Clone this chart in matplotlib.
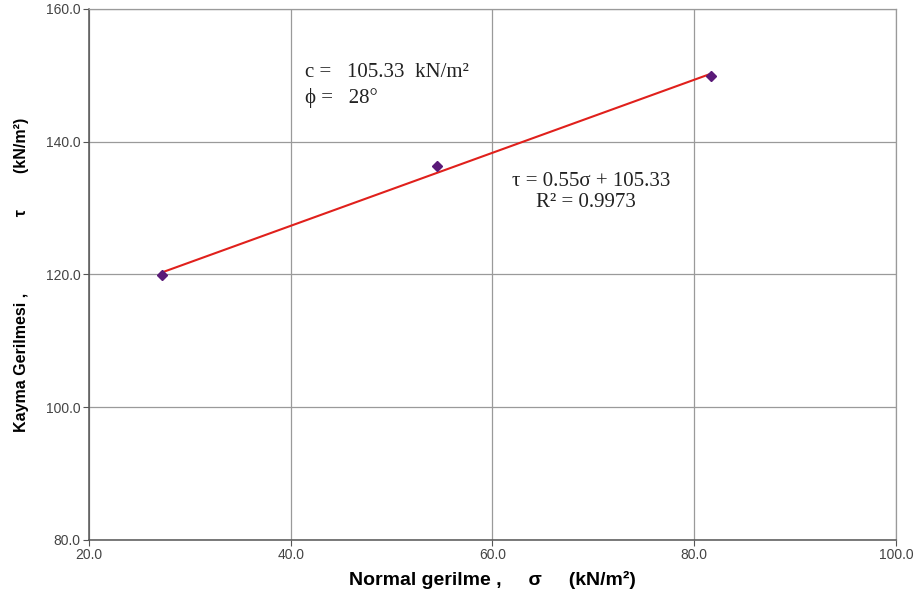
#!/usr/bin/env python3
"""Shear box result: shear stress vs normal stress with linear trend line."""

import matplotlib
matplotlib.use("Agg")
import matplotlib.pyplot as plt
import numpy as np

# Test points
sigma = [27.2, 54.5, 81.7]          # normal stress, kN/m2
tau = [119.9, 136.3, 149.9]         # shear stress, kN/m2

# Trend line as reported on the chart
slope = 0.55
intercept = 105.33
r2 = 0.9973
cohesion = 105.33
phi_deg = 28

x_ticks = [20.0, 40.0, 60.0, 80.0, 100.0]
y_ticks = [80.0, 100.0, 120.0, 140.0, 160.0]


def main() -> None:
    fig = plt.figure(figsize=(9.19, 5.98), dpi=100)
    ax = fig.add_axes([0.0968, 0.097, 0.878, 0.888])

    xs = np.array([min(sigma), max(sigma)])
    ax.plot(xs, slope * xs + intercept, color="#e0201c", lw=1.5, zorder=3)
    ax.plot(sigma, tau, ls="none", marker="D", ms=5, color="#5a1a78",
            markeredgecolor="#5a1a78", zorder=4)

    ax.set_xlim(20, 100)
    ax.set_ylim(80, 160)
    ax.set_xticks(x_ticks)
    ax.set_yticks(y_ticks)
    ax.set_xticklabels([f"{v:.1f}" for v in x_ticks])
    ax.set_yticklabels([f"{v:.1f}" for v in y_ticks])
    ax.grid(color="#9a9a9a", lw=0.9)
    ax.set_axisbelow(True)
    for side in ("top", "right"):
        ax.spines[side].set_color("#9a9a9a")
        ax.spines[side].set_linewidth(0.9)
    for side in ("left", "bottom"):
        ax.spines[side].set_color("#555555")
        ax.spines[side].set_linewidth(1.1)
    ax.tick_params(direction="out", length=4, width=0.8, color="#555555",
                   labelsize=10, labelcolor="#444444", pad=2)
    for lab in ax.get_xticklabels() + ax.get_yticklabels():
        lab.set_fontfamily("Liberation Sans")

    ax.set_xlabel("Normal gerilme ,     σ     (kN/m²)", fontsize=14,
                  fontweight="bold", family="Liberation Sans", labelpad=6)
    ax.set_ylabel("Kayma Gerilmesi ," + " " * 17 + "τ" + " " * 8 + "(kN/m²)",
                  fontsize=11.5, fontweight="bold", family="Liberation Sans",
                  labelpad=12)

    serif = dict(family="Liberation Serif", fontsize=15, color="#222222",
                 va="center")
    ax.text(41.4, 150.4, f"c =   {cohesion:.2f}  kN/m²", **serif)
    ax.text(41.4, 146.6, f"ϕ =   {phi_deg}°", **serif)
    ax.text(69.8, 134.0, f"τ = {slope}σ + {intercept:.2f}", ha="center", **serif)
    ax.text(69.3, 130.8, f"R² = {r2}", ha="center", **serif)

    fig.savefig("out.png", dpi=100)
    plt.close(fig)


if __name__ == "__main__":
    main()
